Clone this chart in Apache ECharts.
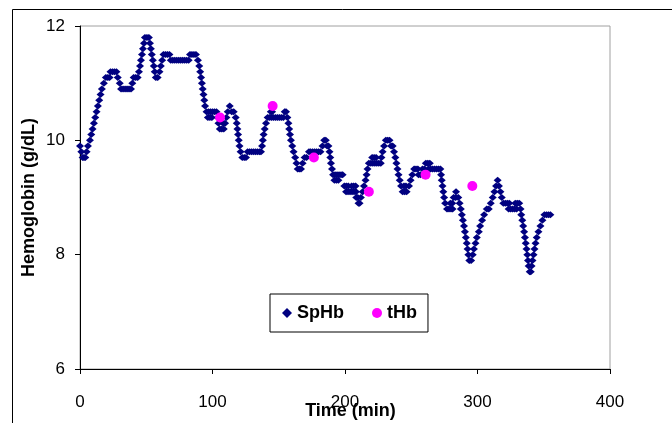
<!DOCTYPE html>
<html><head><meta charset="utf-8">
<script src="https://cdn.jsdelivr.net/npm/echarts@6/dist/echarts.min.js"></script>
<style>html,body{margin:0;padding:0;background:#fff}#c{width:672px;height:423px}</style>
</head><body><div id="c"></div>
<script>
const xTicks = [0, 100, 200, 300, 400];
const yTicks = [6, 8, 10, 12];
const seriesNames = ['SpHb', 'tHb'];
// SpHb: [time (min), g/dL]
const spHb = [
[0,9.9],[1,9.8],[2,9.7],[3,9.7],[4,9.7],[5,9.8],[6,9.9],[7.5,10.0],[8.5,10.1],[9.5,10.2],[10.5,10.3],[11.5,10.4],[12.5,10.5],[13.5,10.6],[14.5,10.7],[15.5,10.8],[16.5,10.9],[18,11.0],[19.5,11.1],[21,11.1],[22.3,11.1],[23,11.2],[24.5,11.2],[26,11.2],[27.5,11.2],[28.5,11.1],[30,11.0],[31,10.9],[32.5,10.9],[34,10.9],[35.5,10.9],[37,10.9],[38.5,10.9],[39.5,11.0],[40.5,11.1],[42,11.1],[43.5,11.1],[44.5,11.2],[45.3,11.3],[46,11.4],[46.8,11.5],[47.5,11.6],[48.3,11.7],[49,11.8],[50.5,11.8],[52,11.8],[52.8,11.7],[53.5,11.6],[54.2,11.5],[55,11.4],[55.7,11.3],[56.4,11.2],[57.2,11.1],[58.6,11.1],[60,11.2],[61,11.3],[62,11.4],[63,11.5],[64.5,11.5],[66,11.5],[67.5,11.5],[68.5,11.4],[70,11.4],[71.5,11.4],[73,11.4],[74.5,11.4],[76,11.4],[77.5,11.4],[79,11.4],[80.5,11.4],[82,11.4],[83,11.5],[84.5,11.5],[86,11.5],[87.5,11.5],[89,11.4],[90,11.3],[90.7,11.2],[91.4,11.1],[92,11.0],[92.6,10.9],[93.2,10.8],[93.8,10.7],[94.4,10.6],[95.5,10.5],[96.5,10.4],[97,10.5],[98,10.4],[98.5,10.5],[99.5,10.4],[100,10.5],[101.5,10.5],[103,10.5],[104,10.4],[104.5,10.3],[105.5,10.2],[107,10.2],[108,10.3],[108.5,10.2],[109.5,10.3],[110.5,10.4],[111.5,10.5],[113,10.6],[114.5,10.5],[116,10.5],[117.5,10.4],[118.3,10.3],[118.8,10.2],[119.3,10.1],[119.8,10.0],[120.4,9.9],[121.2,9.8],[122.5,9.7],[124,9.7],[125.3,9.7],[126.5,9.8],[128,9.8],[129.5,9.8],[131,9.8],[132.5,9.8],[134,9.8],[135.5,9.8],[136.6,9.8],[137.4,9.9],[138,10.0],[138.6,10.1],[139.4,10.2],[140.4,10.3],[141.6,10.4],[143,10.4],[144,10.5],[144.5,10.4],[145,10.5],[146,10.4],[147.5,10.4],[149,10.4],[150.5,10.4],[152,10.4],[153.5,10.4],[154.5,10.5],[155.5,10.5],[156.5,10.4],[157.3,10.3],[157.9,10.2],[158.5,10.1],[159.2,10.0],[160.2,9.9],[161.2,9.8],[162.4,9.7],[163.4,9.6],[164.3,9.5],[165.5,9.5],[166.8,9.5],[168,9.6],[169.5,9.7],[171,9.7],[172.8,9.8],[174,9.8],[175.5,9.8],[177,9.8],[178.5,9.8],[180,9.8],[181.5,9.8],[183,9.9],[184.3,10.0],[185.5,10.0],[186.5,9.9],[187.5,9.9],[188.3,9.8],[188.9,9.7],[189.4,9.6],[190.2,9.5],[191,9.4],[192,9.3],[192.5,9.4],[193.5,9.3],[194,9.4],[195,9.3],[195.5,9.4],[197,9.4],[198.2,9.4],[199.5,9.2],[200.8,9.1],[201,9.2],[202.3,9.1],[202.5,9.2],[203.8,9.1],[205,9.2],[205.3,9.1],[206.5,9.2],[206.8,9.1],[208,9.2],[208.3,9.1],[208.5,9.0],[209.6,9.0],[210.2,8.9],[211,8.9],[212,9.0],[213.3,9.1],[214.3,9.2],[215.5,9.3],[216.3,9.4],[217,9.5],[218,9.6],[219.5,9.6],[220.5,9.7],[221,9.6],[222,9.7],[222.5,9.6],[223.5,9.7],[224,9.6],[225.5,9.6],[227,9.6],[227.5,9.7],[228.4,9.8],[229.5,9.9],[230.8,10.0],[232.2,10.0],[233.6,10.0],[234.8,9.9],[236,9.9],[237,9.8],[238,9.7],[238.8,9.6],[239.6,9.5],[240.4,9.4],[241.3,9.3],[242.3,9.2],[243.5,9.1],[244.5,9.2],[245,9.1],[246,9.2],[246.5,9.1],[248.3,9.2],[249.5,9.3],[250.8,9.4],[252.2,9.5],[253.6,9.5],[255,9.5],[255.5,9.4],[257,9.4],[258.5,9.5],[260,9.5],[261,9.6],[262.5,9.6],[263,9.5],[264,9.6],[264.5,9.5],[266,9.5],[267.5,9.5],[269,9.5],[270.5,9.5],[272,9.5],[272.5,9.4],[273,9.3],[273.6,9.2],[274.2,9.1],[274.8,9.0],[275.6,8.9],[277,8.8],[278.5,8.8],[279.5,8.9],[280,8.8],[281,8.9],[281.2,8.8],[282,9.0],[283.5,9.0],[283.8,9.1],[285.5,9.0],[286.5,8.9],[287.4,8.8],[288.2,8.7],[289,8.6],[289.8,8.5],[290.5,8.4],[291.2,8.3],[291.9,8.2],[292.5,8.1],[293.1,8.0],[293.8,7.9],[295.2,7.9],[296.4,8.0],[297.3,8.1],[298.5,8.2],[299.5,8.3],[301,8.4],[302,8.5],[303.5,8.6],[305,8.7],[307,8.8],[308.5,8.8],[310,8.9],[311.5,9.0],[312.8,9.1],[314,9.2],[315.2,9.3],[316.2,9.2],[317.3,9.1],[318.3,9.0],[319.5,8.9],[321,8.9],[322.5,8.9],[323.5,8.8],[324,8.9],[325,8.8],[326.5,8.8],[328,8.8],[328.5,8.9],[329.5,8.8],[330,8.9],[331.5,8.9],[332.5,8.8],[333,8.7],[333.8,8.6],[334.5,8.5],[335.2,8.4],[335.8,8.3],[336.4,8.2],[337,8.1],[337.6,8.0],[338.1,7.9],[338.6,7.8],[339.4,7.7],[340.2,7.7],[340.8,7.8],[341.5,7.9],[342.3,8.0],[343,8.1],[343.8,8.2],[344.7,8.3],[346,8.4],[347.5,8.5],[349,8.6],[350.5,8.7],[352,8.7],[353.5,8.7],[355,8.7]
];
// tHb: [time (min), g/dL]
const tHb = [[105.7,10.4],[145.4,10.6],[176.5,9.7],[218,9.1],[260.8,9.4],[296.1,9.2]];

const FONT = '"Liberation Sans", Arial, sans-serif';
const chart = echarts.init(document.getElementById('c'), null, {renderer: 'canvas'});
chart.setOption({
  animation: false,
  backgroundColor: '#fff',
  graphic: [{
    type: 'rect', silent: true, z: -10,
    shape: {x: 12.5, y: 9.5, width: 720, height: 460},
    style: {fill: null, stroke: '#000', lineWidth: 1}
  }],
  grid: {left: 80, right: 62, top: 26, bottom: 54, show: true, containLabel: false,
         outerBoundsMode: 'none',
         borderColor: '#a0a0a0', borderWidth: 1, backgroundColor: 'transparent'},
  legend: {
    left: 270, top: 294, orient: 'horizontal',
    padding: [9, 11, 9, 12], itemGap: 28, itemWidth: 10, itemHeight: 10,
    borderColor: '#000', borderWidth: 1, backgroundColor: '#fff',
    textStyle: {fontFamily: FONT, fontWeight: 'bold', fontSize: 18, color: '#000', lineHeight: 20},
    data: [{name: seriesNames[0], icon: 'diamond'}, {name: seriesNames[1], icon: 'circle'}]
  },
  xAxis: {
    type: 'value', min: xTicks[0], max: xTicks[xTicks.length - 1], interval: xTicks[1] - xTicks[0],
    name: 'Time (min)', nameLocation: 'middle', nameGap: 33, nameMoveOverlap: false,
    nameTextStyle: {fontFamily: FONT, fontWeight: 'bold', fontSize: 18, color: '#000', padding: [0, 0, 0, 11]},
    axisLine: {onZero: false, lineStyle: {color: '#000', width: 1}},
    axisTick: {show: true, length: 5, inside: false, lineStyle: {color: '#000'}},
    axisLabel: {margin: 25, fontFamily: FONT, fontSize: 17, color: '#000'},
    splitLine: {show: false}
  },
  yAxis: {
    type: 'value', min: yTicks[0], max: yTicks[yTicks.length - 1], interval: yTicks[1] - yTicks[0],
    name: 'Hemoglobin (g/dL)', nameLocation: 'middle', nameGap: 42, nameRotate: 90, nameMoveOverlap: false,
    nameTextStyle: {fontFamily: FONT, fontWeight: 'bold', fontSize: 18, color: '#000'},
    axisLine: {show: true, onZero: false, lineStyle: {color: '#000', width: 1}},
    axisTick: {show: true, length: 5, inside: false, lineStyle: {color: '#000'}},
    axisLabel: {margin: 15, fontFamily: FONT, fontSize: 17, color: '#000', padding: [9, 0, 0, 0]},
    splitLine: {show: false}
  },
  series: [
    {name: seriesNames[0], type: 'scatter', data: spHb, symbol: 'diamond', symbolSize: [8, 7],
     itemStyle: {color: '#000080', opacity: 1}, z: 2},
    {name: seriesNames[1], type: 'scatter', data: tHb, symbol: 'circle', symbolSize: 10,
     itemStyle: {color: '#ff00ff', opacity: 1}, z: 3}
  ]
});
</script></body></html>
